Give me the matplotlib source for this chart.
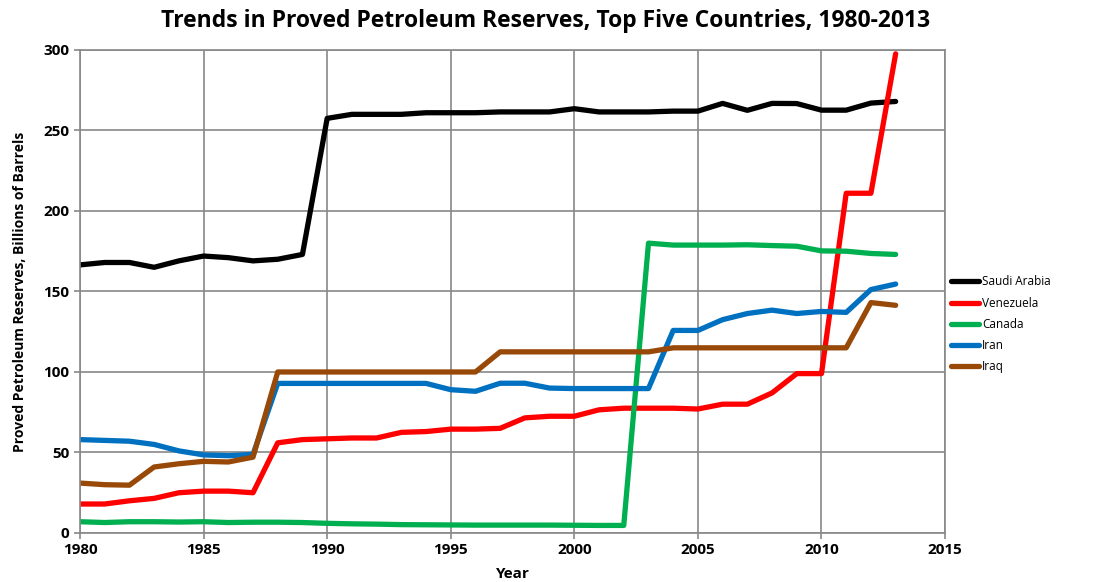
import matplotlib
matplotlib.use("Agg")
import matplotlib.pyplot as plt

years = list(range(1980, 2014))

saudi = [166.5, 168, 168, 165, 169, 172, 171, 169, 170, 173,
         257.5, 260, 260, 260, 261, 261, 261, 261.5, 261.5, 261.5,
         263.5, 261.5, 261.5, 261.5, 262, 262, 266.8, 262.5, 266.8, 266.7,
         262.6, 262.6, 267, 268]
venezuela = [18, 18, 20, 21.5, 25, 26, 26, 25, 56, 58,
             58.5, 59, 59, 62.5, 63, 64.5, 64.5, 65, 71.5, 72.5,
             72.5, 76.5, 77.5, 77.5, 77.5, 77, 80, 80, 87, 99,
             99, 211, 211, 297.6]
canada = [7, 6.5, 7, 7, 6.8, 7, 6.5, 6.7, 6.7, 6.5,
          6, 5.7, 5.5, 5.2, 5.1, 5, 4.9, 4.9, 4.9, 4.9,
          4.8, 4.7, 4.7, 180, 178.8, 178.8, 178.8, 179, 178.5, 178.1,
          175.2, 175, 173.6, 173]
iran = [58, 57.5, 57, 55, 51, 48.5, 48, 48.8, 92.9, 92.9,
        92.9, 92.9, 92.9, 92.9, 92.9, 89, 88, 93, 93, 90,
        89.7, 89.7, 89.7, 89.7, 125.8, 125.8, 132.5, 136.3, 138.4, 136.3,
        137.6, 137, 151.2, 154.6]
iraq = [31, 30, 29.7, 41, 43, 44.5, 44.1, 47.1, 100, 100,
        100, 100, 100, 100, 100, 100, 100, 112.5, 112.5, 112.5,
        112.5, 112.5, 112.5, 112.5, 115, 115, 115, 115, 115, 115,
        115, 115, 143.1, 141.4]

names = ["Saudi Arabia", "Venezuela", "Canada", "Iran", "Iraq"]
series = [saudi, venezuela, canada, iran, iraq]
colors = ["#000000", "#FF0000", "#00B050", "#0070C0", "#984807"]

plt.rcParams['font.family'] = ['Open Sans', 'DejaVu Sans']

fig = plt.figure(figsize=(11.02, 5.82), dpi=100)
ax = fig.add_axes([0.0726, 0.0842, 0.785, 0.83])

for name, vals, c in zip(names, series, colors):
    ax.plot(years, vals, color=c, lw=3.8, label=name,
            solid_joinstyle='round', solid_capstyle='round')

ax.set_xlim(1980, 2015)
ax.set_ylim(0, 300)
ax.set_xticks(range(1980, 2016, 5))
ax.set_yticks(range(0, 301, 50))
ax.grid(True, color="#888888", lw=1.2)
ax.set_axisbelow(True)
for s in ax.spines.values():
    s.set_color("#888888")
    s.set_linewidth(1.2)
ax.tick_params(colors="#888888", length=4, width=1.2, labelcolor="black",
               labelsize=11)
for lab in ax.get_xticklabels() + ax.get_yticklabels():
    lab.set_fontweight("bold")

ax.set_xlabel("Year", fontsize=11, fontweight="bold", labelpad=7)
ax.set_ylabel("Proved Petroleum Reserves, Billions of Barrels", fontsize=10,
              fontweight="bold", labelpad=12)
fig.suptitle("Trends in Proved Petroleum Reserves, Top Five Countries, 1980-2013",
             fontsize=16.5, fontweight="bold", x=0.495, y=0.984)

fig.legend(loc="upper left", bbox_to_anchor=(0.853, 0.545), frameon=False,
           fontsize=8.5, handlelength=2.4, handletextpad=0.25, labelspacing=0.7)

fig.savefig("out.png", dpi=100, facecolor="white")
